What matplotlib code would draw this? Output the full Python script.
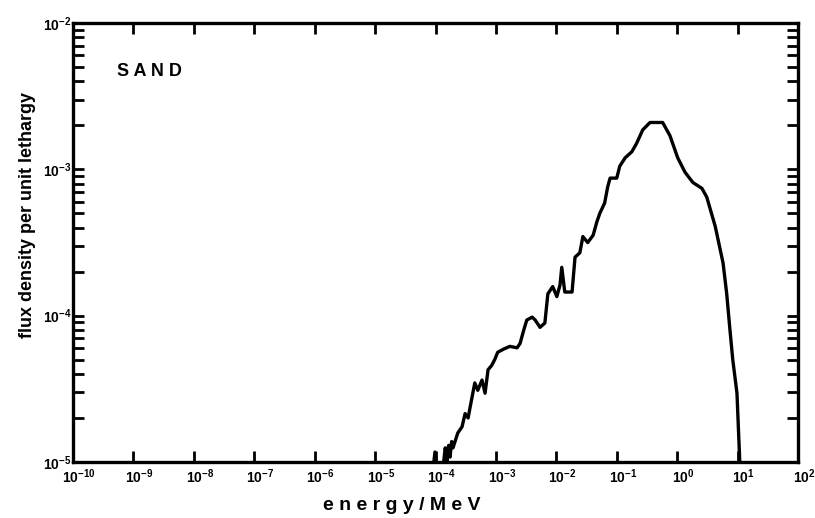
import matplotlib
matplotlib.use("Agg")
import matplotlib.pyplot as plt
import matplotlib.transforms as mtransforms
from matplotlib.ticker import LogLocator, NullFormatter, NullLocator

# Data (energy in MeV, flux per unit lethargy)
energy = [9.1e-5, 9.8e-5, 1.05e-4, 1.32e-4, 1.45e-4, 1.55e-4, 1.65e-4, 1.74e-4,
          1.85e-4, 1.95e-4, 2.34e-4,
          2.75e-4, 3.09e-4, 3.47e-4, 3.72e-4, 4.47e-4, 5.01e-4, 5.89e-4, 6.61e-4,
          7.41e-4, 8.51e-4, 9.55e-4, 1.07e-3, 1.32e-3, 1.70e-3, 2.24e-3, 2.51e-3,
          2.88e-3, 3.24e-3, 3.98e-3, 4.47e-3, 5.37e-3, 6.46e-3, 7.24e-3, 8.71e-3,
          1.02e-2, 1.15e-2, 1.23e-2, 1.38e-2, 1.82e-2, 2.04e-2, 2.45e-2, 2.75e-2,
          3.31e-2, 4.07e-2, 4.68e-2, 5.25e-2, 6.31e-2, 7.08e-2, 7.76e-2, 0.100,
          0.112, 0.138, 0.178, 0.214, 0.269, 0.355, 0.575, 0.759,
          1.02, 1.35, 1.82, 2.57, 3.09, 4.27, 5.75, 6.61,
          7.41, 8.32, 9.77, 11.0]
flux = [8.9e-6, 1.17e-5, 8.9e-6, 8.9e-6, 1.25e-5, 1.02e-5, 1.30e-5, 1.08e-5,
        1.38e-5, 1.25e-5, 1.58e-5,
        1.74e-5, 2.14e-5, 2.00e-5, 2.34e-5, 3.47e-5, 3.09e-5, 3.63e-5, 2.95e-5,
        4.27e-5, 4.57e-5, 5.01e-5, 5.62e-5, 5.89e-5, 6.17e-5, 6.03e-5, 6.46e-5,
        7.94e-5, 9.33e-5, 9.77e-5, 9.33e-5, 8.32e-5, 8.91e-5, 1.41e-4, 1.58e-4,
        1.35e-4, 1.62e-4, 2.14e-4, 1.45e-4, 1.45e-4, 2.51e-4, 2.69e-4, 3.47e-4,
        3.16e-4, 3.55e-4, 4.37e-4, 5.01e-4, 5.89e-4, 7.59e-4, 8.71e-4, 8.71e-4,
        1.05e-3, 1.20e-3, 1.32e-3, 1.51e-3, 1.86e-3, 2.09e-3, 2.09e-3, 1.70e-3,
        1.20e-3, 9.55e-4, 8.13e-4, 7.41e-4, 6.46e-4, 4.07e-4, 2.29e-4, 1.41e-4,
        8.32e-5, 5.01e-5, 2.95e-5, 8.9e-6]

x_decades = list(range(-10, 3))
y_decades = [-5, -4, -3, -2]

plt.rcParams["font.family"] = ["Liberation Sans", "DejaVu Sans"]
plt.rcParams["mathtext.fontset"] = "custom"
plt.rcParams["mathtext.rm"] = "Liberation Sans:bold"
plt.rcParams["mathtext.it"] = "Liberation Sans:bold"

fig = plt.figure(figsize=(8.15, 5.18), dpi=100)
ax = fig.add_axes([73 / 815, 1 - 462 / 518, 725 / 815, 439 / 518])

ax.plot(energy, flux, color="black", lw=2.4, solid_joinstyle="round")

ax.set_xscale("log")
ax.set_yscale("log")
ax.set_xlim(1e-10, 1e2)
ax.set_ylim(1e-5, 1e-2)

ax.set_xticks([10.0 ** d for d in x_decades])
ax.set_xticklabels([f"$10^{{{d}}}$" for d in x_decades])
ax.xaxis.set_minor_locator(NullLocator())
ax.set_yticks([10.0 ** d for d in y_decades])
ax.set_yticklabels([f"$10^{{{d}}}$" for d in y_decades])
ax.yaxis.set_minor_locator(LogLocator(base=10, subs=range(2, 10)))
ax.yaxis.set_minor_formatter(NullFormatter())

ax.tick_params(which="both", direction="in", top=True, right=True,
               length=8, width=2, labelsize=10, color="black")
ax.tick_params(axis="x", pad=4)
ax.tick_params(axis="y", pad=1)

# labels in the scan sit a little right of their ticks
shift = mtransforms.ScaledTranslation(6 / 100, 0, fig.dpi_scale_trans)
for lbl in ax.get_xticklabels():
    lbl.set_transform(lbl.get_transform() + shift)

for s in ax.spines.values():
    s.set_linewidth(2.4)

ax.text(0.061, 0.89, "S A N D", transform=ax.transAxes, fontsize=13,
        fontweight="bold", ha="left", va="center")

fig.text(402 / 815, 1 - 505 / 518, "e n e r g y / M e V", fontsize=14,
         fontweight="bold", ha="center", va="center")
fig.text(28 / 815, 1 - 215 / 518, "flux density per unit lethargy",
         fontsize=13, fontweight="bold", rotation=90, ha="center", va="center")

fig.savefig("out.png", dpi=100)
